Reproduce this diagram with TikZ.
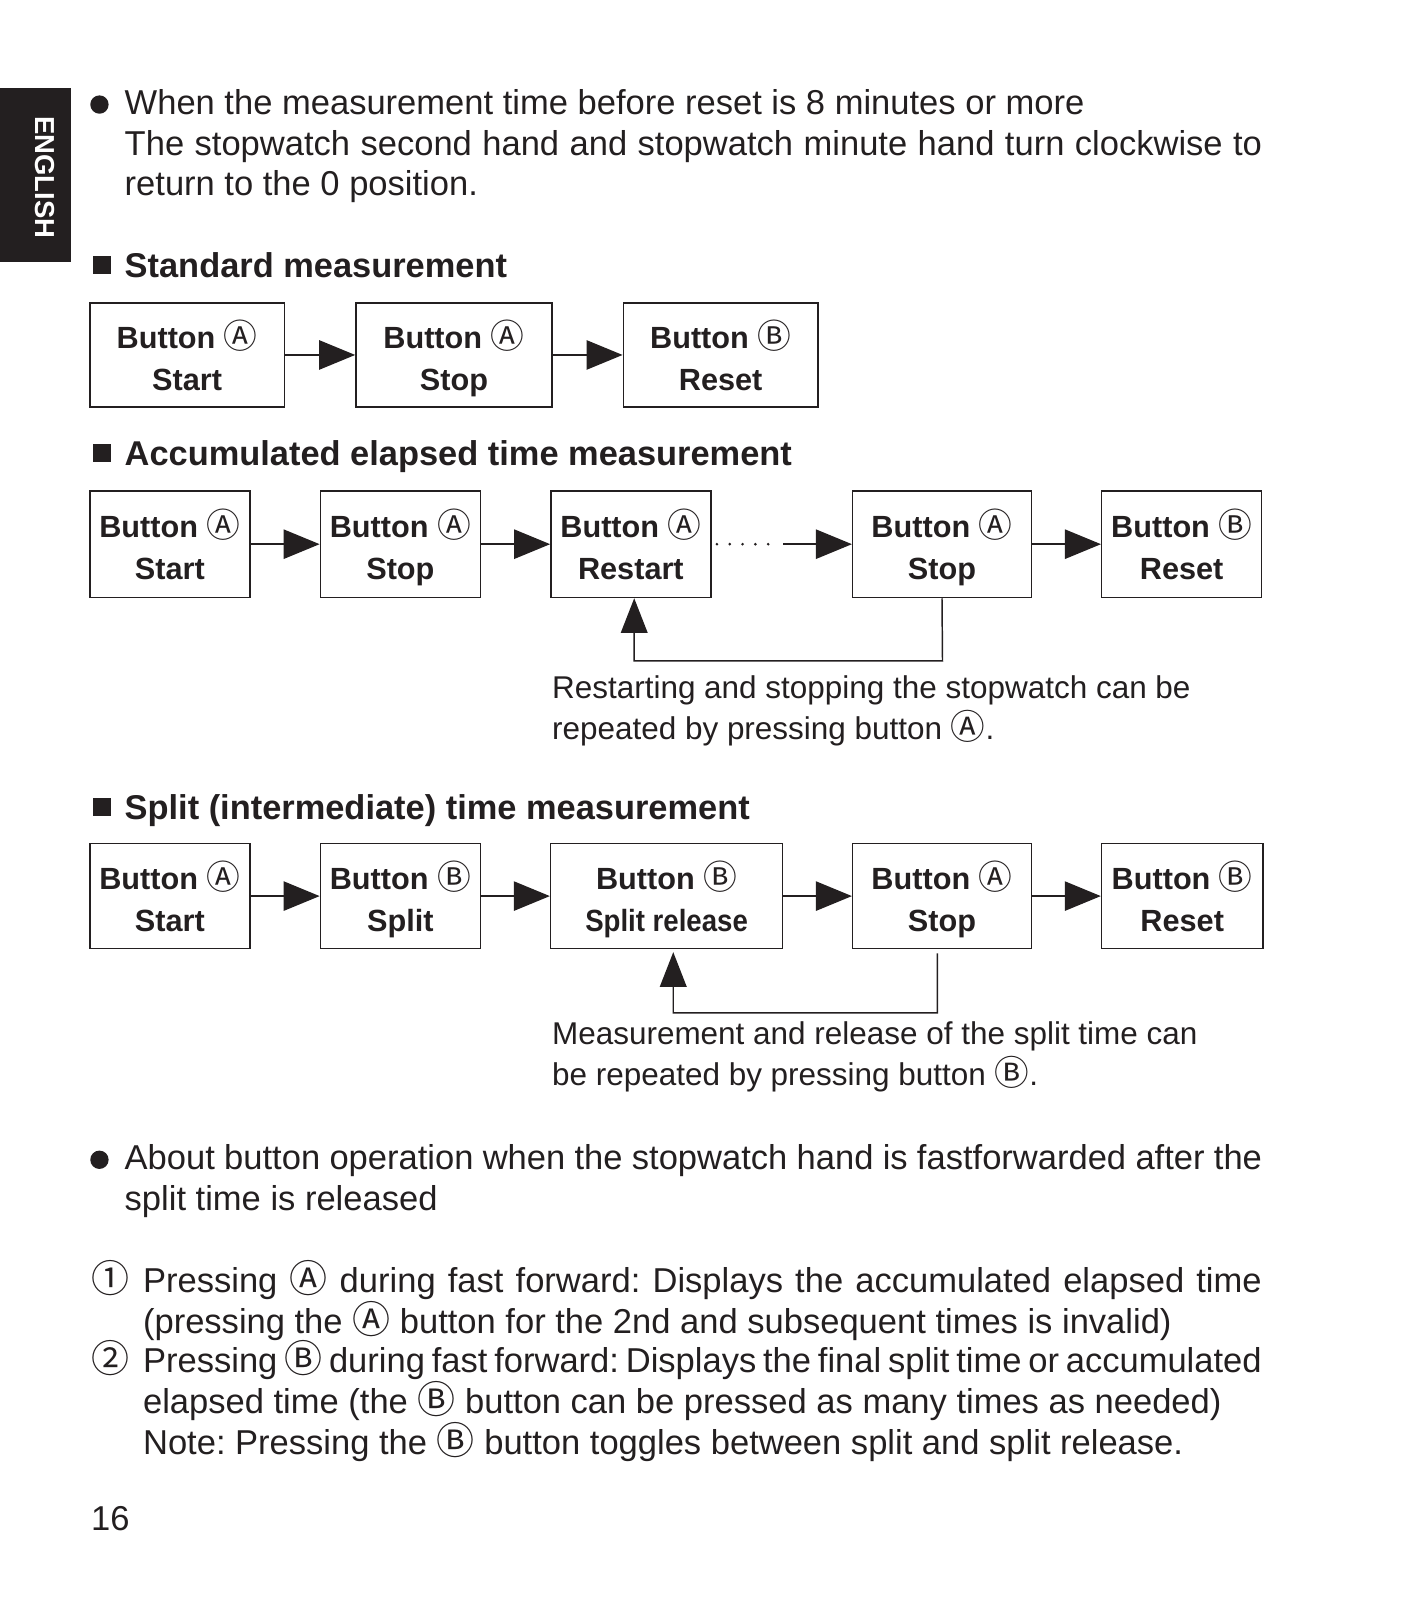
\documentclass[tikz,border=0pt]{standalone}
\usepackage{fontspec}
\setmainfont{Liberation Sans}
\newfontfamily\cjk{Noto Sans CJK JP}
\usetikzlibrary{arrows.meta,calc}
\newcommand\circch[1]{{\cjk\mdseries\scalebox{1.1}{\char"#1}}}
\newcommand\cA{\circch{24B6}}
\newcommand\cB{\circch{24B7}}
\newcommand\cOne{\circch{2460}}
\newcommand\cTwo{\circch{2461}}
\newcommand\descfix{\vphantom{p}}
\newcommand\topfix{\rule{0pt}{26.6pt}}
\definecolor{ink}{HTML}{231F20}
\tikzset{
 stepbox/.style={draw=ink, line width=1.1pt, align=center, inner sep=0pt, text=ink,
   font=\fontsize{23}{31.4}\selectfont\bfseries},
 arr/.style={draw=ink, line width=1.1pt, -{Triangle[length=27pt,width=22pt]}},
 varr/.style={draw=ink, line width=1.1pt, -{Triangle[length=26pt,width=20pt]}},
 body/.style={anchor=base west, inner sep=0pt, text=ink, font=\fontsize{25.9}{30}\selectfont},
 head/.style={anchor=base west, inner sep=0pt, text=ink, font=\fontsize{25.8}{30}\selectfont\bfseries},
 captext/.style={anchor=base west, inner sep=0pt, text=ink, font=\fontsize{23.6}{28}\selectfont},
}
\begin{document}
\frenchspacing
\begin{tikzpicture}[x=0.765pt,y=-0.765pt]
\useasboundingbox (0,0) rectangle (1395,1568.6);
% English tab
\fill[ink] (0,86) rectangle (69.6,257);
\node[rotate=-90, text=white, inner sep=0pt, font=\fontsize{20.6}{22}\selectfont\bfseries] (eng) at (44,174) {ENGLISH};
% top bullet
\fill[ink] (97.5,102.5) circle (9);
\node[body] (t1) at (122,112) {When the measurement time before reset is 8 minutes or more};
\node[body] (t2) at (122,152) {\makebox[853pt][s]{The stopwatch second hand and stopwatch minute hand turn clockwise to}};
\node[body] (t3) at (122,192) {return to the 0 position.};
% Standard
\fill[ink] (91,251) rectangle (109,269);
\node[head] (h1) at (122,272) {Standard measurement};
\node[stepbox, minimum width=146pt, minimum height=78pt] (s1) at (183.5,348) {\topfix Button \cA\\Start\descfix};
\node[stepbox, minimum width=147pt, minimum height=78pt] (s2) at (445,348) {\topfix Button \cA\\Stop\descfix};
\node[stepbox, minimum width=146pt, minimum height=78pt] (s3) at (706.5,348) {\topfix Button \cB\\Reset\descfix};
\draw[arr] (s1) -- (s2);
\draw[arr] (s2) -- (s3);
% Accumulated
\fill[ink] (91,435) rectangle (109,453);
\node[head] (h2) at (122,456) {Accumulated elapsed time measurement};
\node[stepbox, minimum width=120pt, minimum height=80pt] (a1) at (166.5,533.5) {\topfix Button \cA\\Start\descfix};
\node[stepbox, minimum width=120pt, minimum height=80pt] (a2) at (392.5,533.5) {\topfix Button \cA\\Stop\descfix};
\node[stepbox, minimum width=120pt, minimum height=80pt] (a3) at (618.5,533.5) {\topfix Button \cA\\Restart\descfix};
\node[stepbox, minimum width=134pt, minimum height=80pt] (a4) at (923.5,533.5) {\topfix Button \cA\\Stop\descfix};
\node[stepbox, minimum width=120pt, minimum height=80pt] (a5) at (1158.5,533.5) {\topfix Button \cB\\Reset\descfix};
\draw[arr] (a1) -- (a2);
\draw[arr] (a2) -- (a3);
\coordinate (dotend) at (760,533.5);
\coordinate (solstart) at (768,533.5);
\draw[ink, line width=2.2pt, line cap=round, dash pattern=on 0pt off 9.6pt] ([xshift=4pt]a3.east) -- (dotend);
\draw[arr] (solstart) -- (a4.west);
\draw[arr] (a4) -- (a5);
\coordinate (fbA) at (924,648);
\draw[varr] (a4.south) -- (fbA) -| ([xshift=2.5pt]a3.south);
\node[captext] (c1) at (541,685) {Restarting and stopping the stopwatch can be};
\node[captext] (c2) at (541,725) {repeated by pressing button \cA.};
% Split
\fill[ink] (91,782) rectangle (109,800);
\node[head] (h3) at (122,803) {Split (intermediate) time measurement};
\node[stepbox, minimum width=120pt, minimum height=79pt] (p1) at (166.5,878.5) {\topfix Button \cA\\Start\descfix};
\node[stepbox, minimum width=120pt, minimum height=79pt] (p2) at (392.5,878.5) {\topfix Button \cB\\Split\descfix};
\node[stepbox, minimum width=174pt, minimum height=79pt] (p3) at (653.5,878.5) {\topfix Button \cB\\\scalebox{0.9}[1]{Split release}\descfix};
\node[stepbox, minimum width=134pt, minimum height=79pt] (p4) at (923.5,878.5) {\topfix Button \cA\\Stop\descfix};
\node[stepbox, minimum width=121pt, minimum height=79pt] (p5) at (1159,878.5) {\topfix Button \cB\\Reset\descfix};
\draw[arr] (p1) -- (p2);
\draw[arr] (p2) -- (p3);
\draw[arr] (p3) -- (p4);
\draw[arr] (p4) -- (p5);
\coordinate (fbS) at (919,993);
\draw[varr, shorten >=2pt] ([xshift=-3.5pt,yshift=-3pt]p4.south) -- (fbS) -| ([xshift=5pt]p3.south);
\node[captext] (c3) at (541,1024) {Measurement and release of the split time can};
\node[captext] (c4) at (541,1064) {be repeated by pressing button \cB.};
% About bullet
\fill[ink] (97.5,1137) circle (9);
\node[body] (b1) at (122,1147) {\makebox[853pt][s]{About button operation when the stopwatch hand is fastforwarded after the}};
\node[body] (b2) at (122,1187) {split time is released};
% list
\node[body] (n1) at (89,1267) {\cOne};
\node[body] (l1) at (140,1267) {\makebox[839pt][s]{Pressing \cA\ during fast forward: Displays the accumulated elapsed time}};
\node[body] (l2) at (140,1307) {(pressing the \cA\ button for the 2nd and subsequent times is invalid)};
\node[body] (n2) at (89,1346) {\cTwo};
\node[body] (l3) at (140,1346) {\makebox[839pt][s]{Pressing \cB\ during fast forward: Displays the final split time or accumulated}};
\node[body] (l4) at (140,1386) {elapsed time (the \cB\ button can be pressed as many times as needed)};
\node[body] (l5) at (140,1426) {Note: Pressing the \cB\ button toggles between split and split release.};
\node[body] (pg) at (89,1500) {16};
\end{tikzpicture}
\end{document}
